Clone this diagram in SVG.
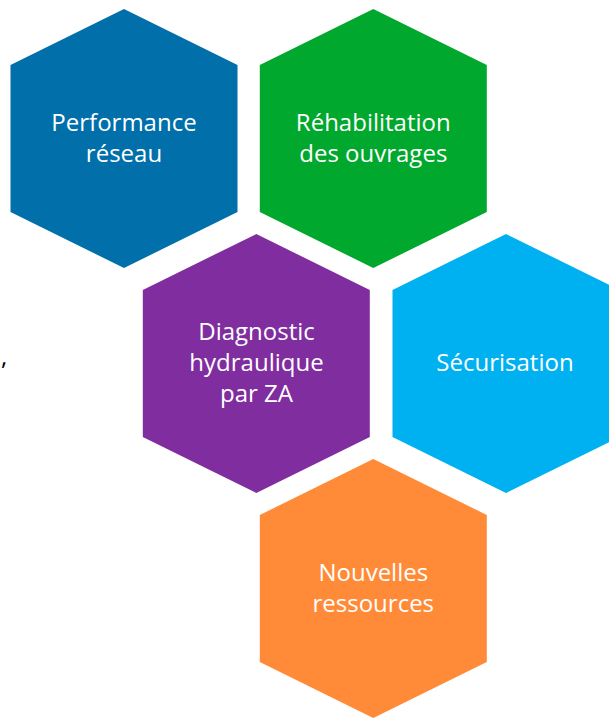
<svg xmlns="http://www.w3.org/2000/svg" width="609" height="718" viewBox="0 0 609 718">
<defs>
<style>
.hex{stroke:none}
.lbl{font-family:"Open Sans","Noto Sans",sans-serif;font-size:24px;fill:#ffffff;text-anchor:middle}
</style>
<polygon id="hexShape" points="0,-129.5 113.5,-73.5 113.5,73.5 0,129.5 -113.5,73.5 -113.5,-73.5"/>
</defs>
<rect width="609" height="718" fill="#ffffff"/>
<g id="perf">
<use href="#hexShape" x="124" y="138.5" fill="#006FAA"/>
<text class="lbl" x="124" y="131">Performance</text>
<text class="lbl" x="124" y="162">réseau</text>
</g>
<g id="rehab">
<use href="#hexShape" x="373.3" y="138.5" fill="#00A82D"/>
<text class="lbl" x="373.3" y="131">Réhabilitation</text>
<text class="lbl" x="373.3" y="162">des ouvrages</text>
</g>
<g id="diag">
<use href="#hexShape" x="256.3" y="363.5" fill="#7F2D9F"/>
<text class="lbl" x="256.5" y="340">Diagnostic</text>
<text class="lbl" x="256.5" y="371">hydraulique</text>
<text class="lbl" x="256.5" y="402">par ZA</text>
</g>
<g id="secu">
<use href="#hexShape" x="506" y="363.5" fill="#00B1F1"/>
<text class="lbl" x="505" y="371">Sécurisation</text>
</g>
<g id="nouv">
<use href="#hexShape" x="373.3" y="588.5" fill="#FF8B38"/>
<text class="lbl" x="373.3" y="581">Nouvelles</text>
<text class="lbl" x="373.3" y="612">ressources</text>
</g>
<g id="connectors"></g>
<text x="1" y="365" font-family="Open Sans, sans-serif" font-size="24" fill="#000000">,</text>
</svg>
